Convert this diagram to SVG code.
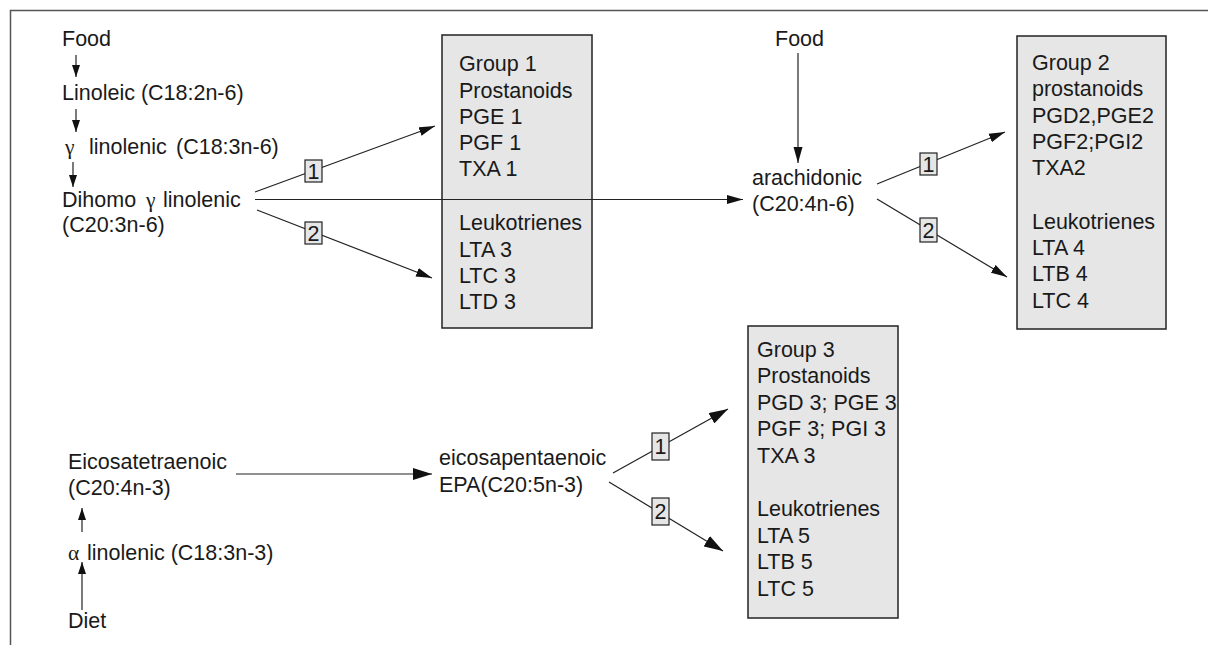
<svg xmlns="http://www.w3.org/2000/svg" width="1208" height="645" viewBox="0 0 1208 645">
<style>
text{font-family:"Liberation Sans",Arial,sans-serif;font-size:21.5px;fill:#1a1a1a}
.g{font-family:"Liberation Serif","DejaVu Serif",serif}
.box{fill:#e6e6e6;stroke:#222;stroke-width:1.5}
.lb{fill:#e6e6e6;stroke:#222;stroke-width:1.2}
.ln{stroke:#222;stroke-width:1.2;fill:none}
.frame{stroke:#555;stroke-width:1.5;fill:none}
</style>
<defs>
<marker id="ms" markerWidth="12" markerHeight="8" refX="12" refY="4" orient="auto" markerUnits="userSpaceOnUse" viewBox="0 0 12 8"><path d="M0,0 L12,4 L0,8 z" fill="#111"/></marker>
<marker id="mm" markerWidth="16" markerHeight="10" refX="16" refY="5" orient="auto" markerUnits="userSpaceOnUse" viewBox="0 0 16 10"><path d="M0,0.5 L16,5 L0,9.5 z" fill="#111"/></marker>
<marker id="ml" markerWidth="19" markerHeight="12" refX="19" refY="6" orient="auto" markerUnits="userSpaceOnUse" viewBox="0 0 19 12"><path d="M0,0 L19,6 L0,12 z" fill="#111"/></marker>
</defs>
<path class="frame" d="M10.5,645 L10.5,10.5 L1208,10.5"/>

<g id="box1">
<rect class="box" x="442" y="35" width="150" height="293"/>
<text x="459" y="71">Group 1</text>
<text x="459" y="97.5">Prostanoids</text>
<text x="459" y="123.5">PGE 1</text>
<text x="459" y="149.5">PGF 1</text>
<text x="459" y="176">TXA 1</text>
<text x="459" y="230">Leukotrienes</text>
<text x="459" y="256.5">LTA 3</text>
<text x="459" y="283">LTC 3</text>
<text x="459" y="309">LTD 3</text>
</g>
<g id="box2">
<rect class="box" x="1017" y="36" width="149" height="293"/>
<text x="1032" y="70">Group 2</text>
<text x="1032" y="96">prostanoids</text>
<text x="1032" y="122.5">PGD2,PGE2</text>
<text x="1032" y="148.5">PGF2;PGI2</text>
<text x="1032" y="175">TXA2</text>
<text x="1032" y="228.5">Leukotrienes</text>
<text x="1032" y="255">LTA 4</text>
<text x="1032" y="281">LTB 4</text>
<text x="1032" y="307.5">LTC 4</text>
</g>
<g id="box3">
<rect class="box" x="748" y="326" width="150" height="292"/>
<text x="757" y="357">Group  3</text>
<text x="757" y="383">Prostanoids</text>
<text x="757" y="409.5">PGD 3; PGE 3</text>
<text x="757" y="436">PGF 3; PGI 3</text>
<text x="757" y="462.5">TXA 3</text>
<text x="757" y="516">Leukotrienes</text>
<text x="757" y="542.5">LTA 5</text>
<text x="757" y="569">LTB 5</text>
<text x="757" y="595.5">LTC 5</text>
</g>

<g id="food1"><text x="62" y="46">Food</text></g>
<g id="linoleic"><text x="62" y="100">Linoleic (C18:2n-6)</text></g>
<g id="glinolenic"><text y="154"><tspan class="g" x="65">γ</tspan><tspan x="89">linolenic</tspan><tspan x="176">(C18:3n-6)</tspan></text></g>
<g id="dihomo"><text y="207"><tspan x="62">Dihomo</tspan><tspan class="g" x="146">γ</tspan><tspan x="163">linolenic</tspan></text><text x="62" y="232">(C20:3n-6)</text></g>
<g id="food2"><text x="775" y="46">Food</text></g>
<g id="arachidonic"><text x="752" y="185">arachidonic</text><text x="752" y="211">(C20:4n-6)</text></g>
<g id="eicosatetraenoic"><text x="68" y="469">Eicosatetraenoic</text><text x="68" y="495">(C20:4n-3)</text></g>
<g id="alinolenic"><text y="560"><tspan class="g" x="68">α</tspan><tspan x="87">linolenic (C18:3n-3)</tspan></text></g>
<g id="diet"><text x="68" y="628">Diet</text></g>
<g id="epa"><text x="439" y="465">eicosapentaenoic</text><text x="439" y="492">EPA(C20:5n-3)</text></g>

<g id="connectors">
<line class="ln" x1="76" y1="55" x2="76" y2="77" marker-end="url(#ms)"/>
<line class="ln" x1="76" y1="109" x2="76" y2="132" marker-end="url(#ms)"/>
<line class="ln" x1="73" y1="162" x2="73" y2="187" marker-end="url(#ms)"/>
<line class="ln" x1="255" y1="192" x2="435" y2="126" marker-end="url(#mm)"/>
<line class="ln" x1="255" y1="199.5" x2="743" y2="199.5" marker-end="url(#mm)"/>
<line class="ln" x1="257" y1="210" x2="432" y2="278" marker-end="url(#mm)"/>
<line class="ln" x1="798" y1="53" x2="798" y2="163" marker-end="url(#mm)"/>
<line class="ln" x1="877" y1="184" x2="1005" y2="132" marker-end="url(#mm)"/>
<line class="ln" x1="877" y1="199" x2="1007" y2="277" marker-end="url(#mm)"/>
<line class="ln" x1="236" y1="474" x2="432" y2="474" marker-end="url(#ml)"/>
<line class="ln" x1="82" y1="532" x2="82" y2="508" marker-end="url(#ms)"/>
<line class="ln" x1="82" y1="610" x2="82" y2="562" marker-end="url(#ms)"/>
<line class="ln" x1="613" y1="473" x2="728" y2="409" marker-end="url(#ml)"/>
<line class="ln" x1="609" y1="482" x2="723" y2="551" marker-end="url(#ml)"/>
<g id="labels">
<rect class="lb" x="305" y="160" width="17" height="22"/><text x="313.5" y="178.5" text-anchor="middle">1</text>
<rect class="lb" x="305" y="222" width="17" height="22"/><text x="313.5" y="240.5" text-anchor="middle">2</text>
<rect class="lb" x="920" y="153" width="17" height="22"/><text x="928.5" y="171.5" text-anchor="middle">1</text>
<rect class="lb" x="920" y="218" width="17" height="24"/><text x="928.5" y="237.5" text-anchor="middle">2</text>
<rect class="lb" x="652" y="433" width="17" height="27"/><text x="660.5" y="454" text-anchor="middle">1</text>
<rect class="lb" x="652" y="498" width="17" height="27"/><text x="660.5" y="519" text-anchor="middle">2</text>
</g>
</g>
</svg>
